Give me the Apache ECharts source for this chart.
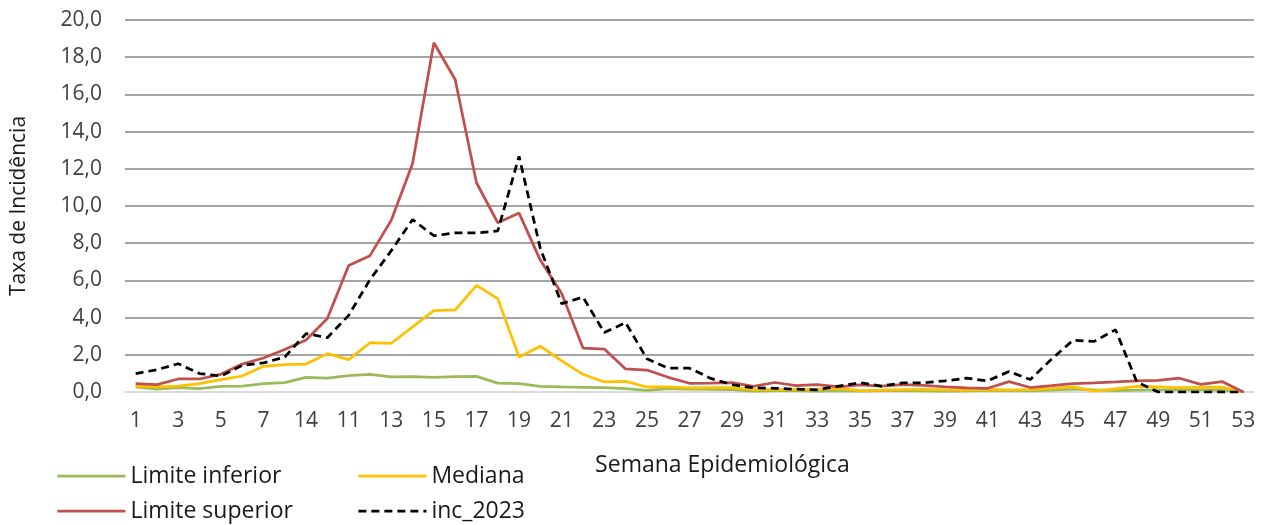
<!DOCTYPE html>
<html lang="pt">
<head>
    <meta charset="UTF-8">
    <title>Taxa de Incidência por Semana Epidemiológica</title>
    <script src="https://cdn.jsdelivr.net/npm/echarts@6/dist/echarts.min.js"></script>
    <style>
        html, body { margin: 0; padding: 0; background: #fff; }
        #chart { width: 1267px; height: 525px; }
    </style>
</head>
<body>
<div id="chart"></div>
<script>
    // semanas (o rótulo da 9ª semana aparece como "14" no original)
    var semanas = ['1','2','3','4','5','6','7','8','14','10','11','12','13','14','15','16','17','18','19','20',
        '21','22','23','24','25','26','27','28','29','30','31','32','33','34','35','36','37','38','39','40',
        '41','42','43','44','45','46','47','48','49','50','51','52','53'];

    var limiteInferior = [0.27,0.16,0.23,0.18,0.30,0.32,0.45,0.50,0.79,0.75,
        0.88,0.95,0.81,0.82,0.79,0.82,0.84,0.48,0.45,0.30,
        0.27,0.25,0.23,0.18,0.09,0.18,0.16,0.14,0.13,0.05,
        0.08,0.08,0.05,0.08,0.05,0.07,0.08,0.06,0.05,0.06,
        0.09,0.08,0.06,0.10,0.15,0.12,0.08,0.10,0.12,0.12,
        0.12,0.10,0.00];

    var mediana = [0.32,0.27,0.32,0.45,0.66,0.86,1.38,1.47,1.50,2.06,
        1.74,2.65,2.62,3.50,4.37,4.41,5.73,5.02,1.88,2.46,
        1.67,0.95,0.54,0.57,0.27,0.27,0.22,0.23,0.23,0.13,
        0.13,0.14,0.14,0.20,0.08,0.10,0.13,0.14,0.11,0.10,
        0.13,0.12,0.13,0.20,0.28,0.06,0.17,0.30,0.28,0.23,
        0.25,0.26,0.00];

    var limiteSuperior = [0.45,0.40,0.70,0.70,0.95,1.50,1.83,2.28,2.80,3.95,
        6.80,7.33,9.23,12.28,18.78,16.80,11.25,9.10,9.62,7.08,
        5.29,2.36,2.31,1.24,1.18,0.79,0.47,0.48,0.50,0.30,
        0.51,0.34,0.40,0.27,0.38,0.32,0.40,0.36,0.28,0.22,
        0.20,0.56,0.24,0.34,0.45,0.49,0.54,0.60,0.63,0.74,
        0.41,0.56,0.00];

    var inc2023 = [0.99,1.20,1.52,0.99,0.86,1.43,1.56,1.88,3.14,2.92,
        4.12,6.04,7.60,9.27,8.40,8.55,8.55,8.66,12.67,7.70,
        4.75,5.10,3.20,3.73,1.79,1.28,1.28,0.73,0.39,0.23,
        0.20,0.15,0.12,0.32,0.50,0.32,0.49,0.49,0.60,0.74,
        0.60,1.10,0.67,1.77,2.78,2.72,3.35,0.54,0.00,0.00,
        0.00,0.00,0.00];

    var fonte = "'Open Sans', sans-serif";
    var corTexto = '#404040';

    // linha do zero mais clara, restantes em cinzento escuro
    var coresGrelha = ['#d9d9d9'];
    for (var k = 0; k < 10; k++) coresGrelha.push('#878787');

    var chart = echarts.init(document.getElementById('chart'));

    function serie(nome, dados, cor, tipo) {
        return {
            name: nome,
            type: 'line',
            data: dados,
            symbol: 'none',
            smooth: false,
            lineStyle: { color: cor, width: 2.75, type: tipo || 'solid' },
            itemStyle: { color: cor }
        };
    }

    function legenda(esq, nomes) {
        return {
            orient: 'vertical',
            left: esq,
            top: 464,
            padding: 0,
            itemWidth: 68,
            itemHeight: 14,
            itemGap: 11,
            itemStyle: { opacity: 0 },
            lineStyle: { width: 2.75 },
            textStyle: { fontFamily: fonte, fontSize: 23, color: '#1a1a1a', lineHeight: 24 },
            data: nomes
        };
    }

    chart.setOption({
        animation: false,
        grid: { left: 125, right: 13, top: 20, bottom: 133 },
        legend: [
            legenda(56, ['Limite inferior', 'Limite superior']),
            legenda(357, ['Mediana', 'inc_2023'])
        ],
        xAxis: {
            type: 'category',
            data: semanas,
            boundaryGap: true,
            name: 'Semana Epidemiológica',
            nameLocation: 'middle',
            nameGap: 62,
            nameTextStyle: { fontFamily: fonte, fontSize: 23, color: '#1a1a1a', padding: [0, 0, 0, 66] },
            axisLine: { lineStyle: { color: '#d9d9d9', width: 1.5 } },
            axisTick: { show: false },
            axisLabel: { interval: 1, margin: 19, fontFamily: fonte, fontSize: 21, color: corTexto }
        },
        yAxis: {
            type: 'value',
            min: 0,
            max: 20,
            interval: 2,
            name: 'Taxa de Incidência',
            nameLocation: 'middle',
            nameGap: 95,
            nameTextStyle: { fontFamily: fonte, fontSize: 21, color: '#1a1a1a' },
            axisLine: { show: false },
            axisTick: { show: false },
            axisLabel: {
                margin: 23,
                fontFamily: fonte,
                fontSize: 21,
                color: corTexto,
                formatter: function (v) { return v.toFixed(1).replace('.', ','); }
            },
            splitLine: { lineStyle: { color: coresGrelha, width: 1.6 } }
        },
        series: [
            serie('Limite inferior', limiteInferior, '#9bbb59'),
            serie('Mediana', mediana, '#ffc000'),
            serie('Limite superior', limiteSuperior, '#c0504d'),
            serie('inc_2023', inc2023, '#000000', [8, 5])
        ]
    });
</script>
</body>
</html>
